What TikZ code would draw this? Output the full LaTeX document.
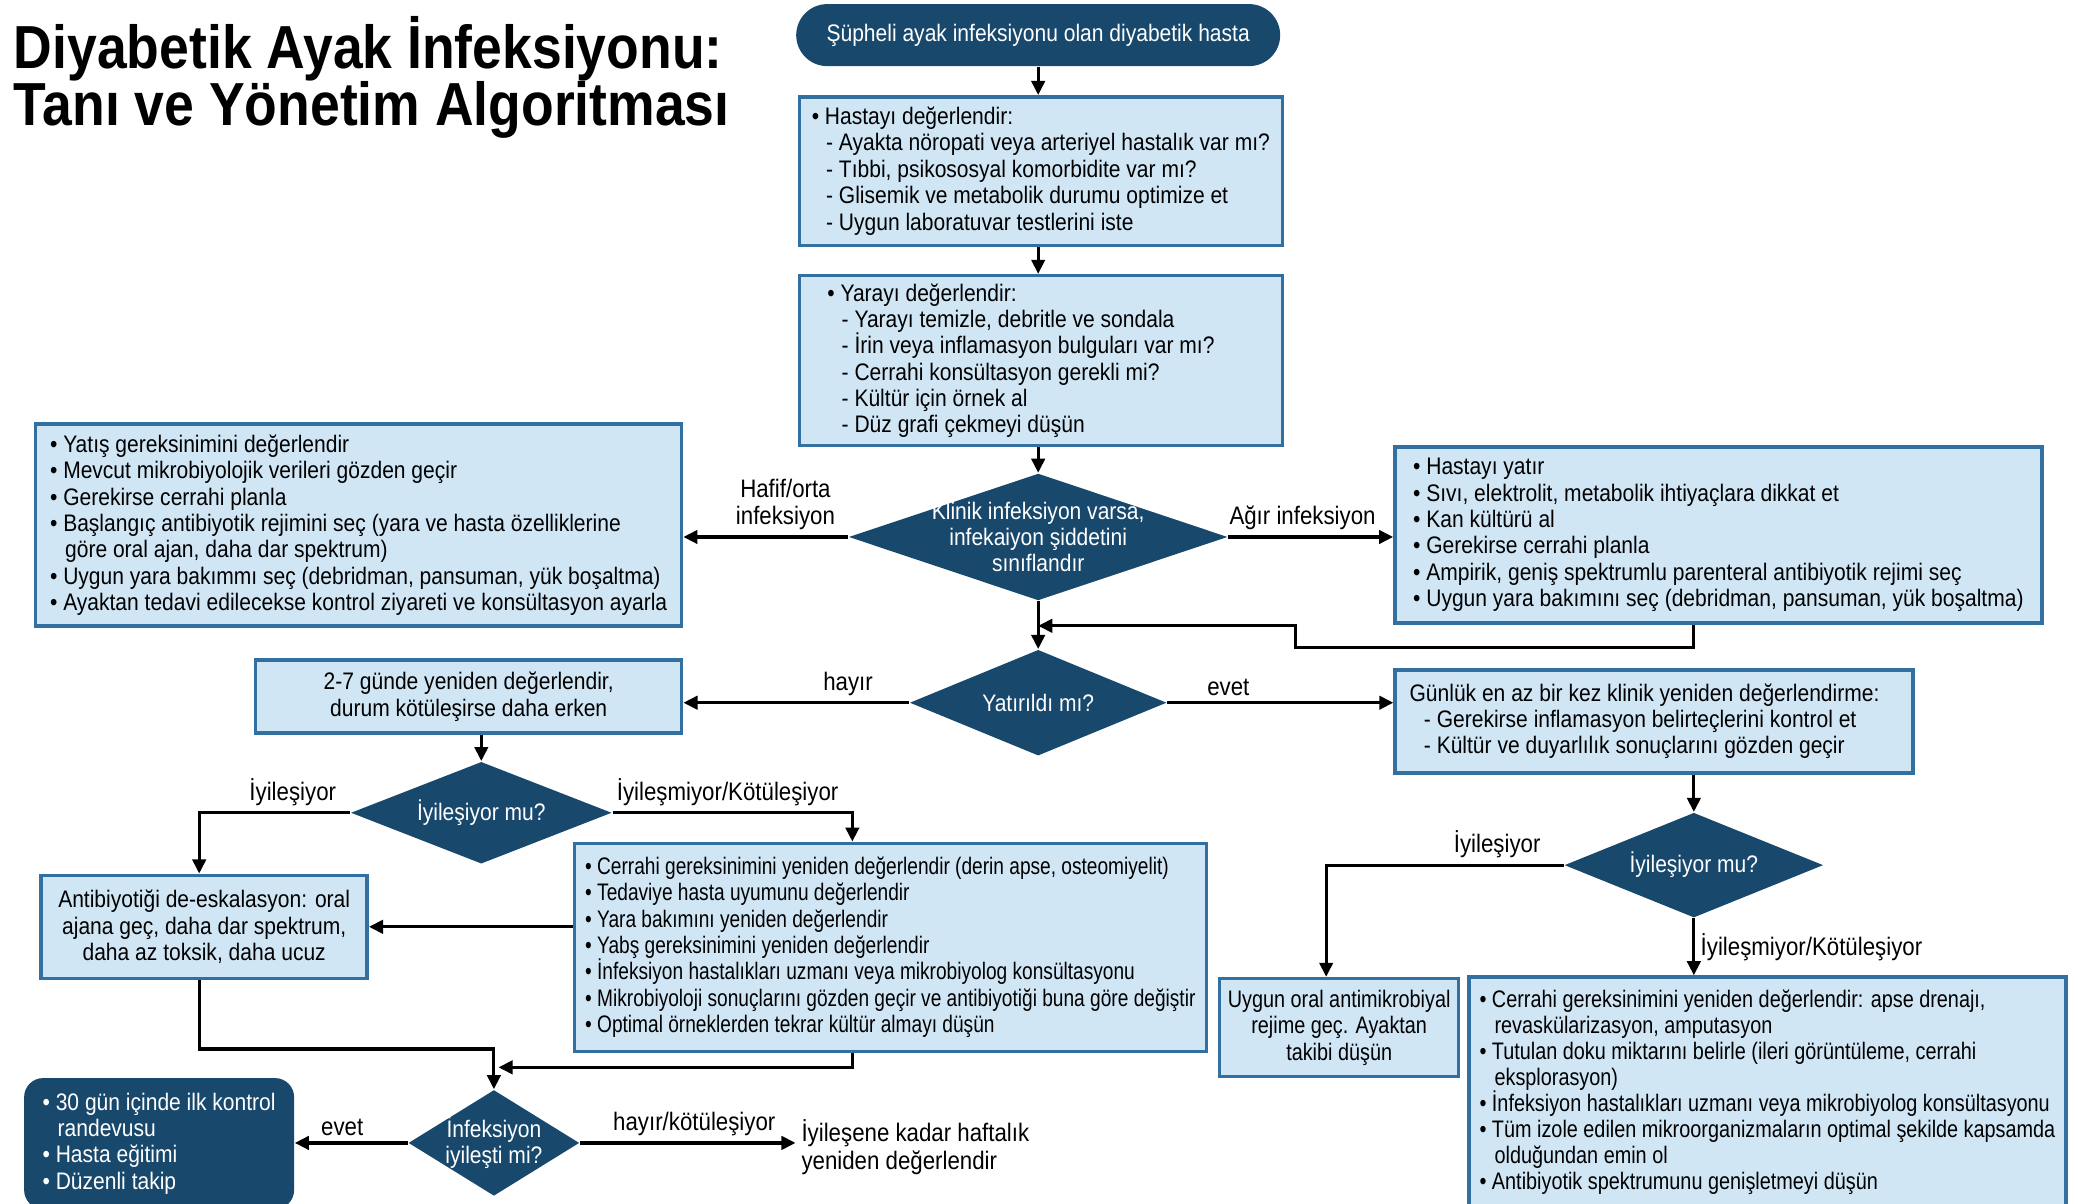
\documentclass[tikz,border=0pt]{standalone}
\usepackage{fontspec}
\setmainfont{Liberation Sans}[FakeStretch=0.88]
\newfontfamily\narrowsans{Liberation Sans}[FakeStretch=0.83]
\newfontfamily\tightsans{Liberation Sans}[FakeStretch=0.80]
\usepackage{tikz}
\usetikzlibrary{
  arrows.meta,
  shapes.geometric,
  positioning
}
\definecolor{footnavy}{RGB}{24,72,108}
\definecolor{paleblue}{RGB}{208,230,245}
\definecolor{edgeblue}{RGB}{50,112,162}

\tikzset{
  infobox/.style={draw=edgeblue, line width=1pt, fill=paleblue, align=left,
    inner sep=2pt, font=\fontsize{6.8}{7.5}\selectfont},
  centerbox/.style={infobox, align=center},
  termbox/.style={fill=footnavy, text=white, align=left, inner sep=2pt,
    font=\fontsize{6.8}{7.5}\selectfont},
  decision/.style={diamond, fill=footnavy, text=white, align=center,
    inner xsep=-3cm, inner ysep=-2cm, font=\fontsize{6.8}{7.5}\selectfont},
  flow/.style={line width=0.9pt, -{Triangle[length=4pt,width=3.8pt]}},
  lbl/.style={inner sep=1.5pt, font=\fontsize{7.2}{7.9}\selectfont}
}

\begin{document}
\begin{tikzpicture}[x=0.013259cm, y=-0.013259cm]
  \useasboundingbox (0,0) rectangle (1568,908);

  % Title
  \node[anchor=north west, inner sep=0pt, align=left,
    font=\bfseries\fontsize{17.3}{16.2}\selectfont] (title) at (10,12)
    {Diyabetik Ayak İnfeksiyonu:\\Tanı ve Yönetim Algoritması};

  % Main column
  \node[termbox, align=center, rounded corners=0.31cm, minimum width=4.84cm,
    minimum height=0.62cm] (start) at (783,26.5)
    {Şüpheli ayak infeksiyonu olan diyabetik hasta};
  \node[infobox, minimum width=4.83cm, minimum height=1.485cm] (hasta) at (785,129)
    {• Hastayı değerlendir:\\
     \hspace*{0.6em}- Ayakta nöropati veya arteriyel hastalık var mı?\\
     \hspace*{0.6em}- Tıbbi, psikososyal komorbidite var mı?\\
     \hspace*{0.6em}- Glisemik ve metabolik durumu optimize et\\
     \hspace*{0.6em}- Uygun laboratuvar testlerini iste};
  \node[infobox, align=flush left, text width=4.27cm, minimum width=4.83cm,
    minimum height=1.70cm] (yara) at (785,272)
    {• Yarayı değerlendir:\\
     \hspace*{0.6em}- Yarayı temizle, debritle ve sondala\\
     \hspace*{0.6em}- İrin veya inflamasyon bulguları var mı?\\
     \hspace*{0.6em}- Cerrahi konsültasyon gerekli mi?\\
     \hspace*{0.6em}- Kültür için örnek al\\
     \hspace*{0.6em}- Düz grafi çekmeyi düşün};
  \node[decision, minimum width=3.79cm, minimum height=1.27cm] (d1) at (783,405)
    {Klinik infeksiyon varsa,\\infekaiyon şiddetini\\sınıflandır};

  % Severity branches
  \node[infobox, minimum width=6.46cm, minimum height=2.02cm] (mild) at (270.5,396)
    {• Yatış gereksinimini değerlendir\\
     • Mevcut mikrobiyolojik verileri gözden geçir\\
     • Gerekirse cerrahi planla\\
     • Başlangıç antibiyotik rejimini seç (yara ve hasta özelliklerine\\
     \hspace*{0.63em}göre oral ajan, daha dar spektrum)\\
     • Uygun yara bakımmı seç (debridman, pansuman, yük boşaltma)\\
     • Ayaktan tedavi edilecekse kontrol ziyareti ve konsültasyon ayarla};
  \node[infobox, minimum width=6.47cm, minimum height=1.76cm] (sev) at (1296,403.5)
    {• Hastayı yatır\\
     • Sıvı, elektrolit, metabolik ihtiyaçlara dikkat et\\
     • Kan kültürü al\\
     • Gerekirse cerrahi planla\\
     • Ampirik, geniş spektrumlu parenteral antibiyotik rejimi seç\\
     • Uygun yara bakımını seç (debridman, pansuman, yük boşaltma)};
  \coordinate (merge) at (783,472);

  \node[decision, minimum width=2.57cm, minimum height=1.06cm] (d2) at (783,530)
    {Yatırıldı mı?};
  \node[centerbox, minimum width=4.26cm, minimum height=0.73cm] (recheck) at (353.5,525.5)
    {2-7 günde yeniden değerlendir,\\durum kötüleşirse daha erken};
  \node[infobox, align=flush left, text width=4.89cm, minimum width=5.18cm,
    minimum height=1.03cm] (daily) at (1247.5,544)
    {Günlük en az bir kez klinik yeniden değerlendirme:\\
     \hspace*{0.6em}- Gerekirse inflamasyon belirteçlerini kontrol et\\
     \hspace*{0.6em}- Kültür ve duyarlılık sonuçlarını gözden geçir};

  % Outpatient path
  \node[decision, minimum width=2.61cm, minimum height=1.02cm] (d3) at (363,613)
    {İyileşiyor mu?};
  \node[centerbox, minimum width=3.26cm, minimum height=1.03cm] (deesc) at (154,699)
    {Antibiyotiği de-eskalasyon: oral\\ajana geç, daha dar spektrum,\\daha az toksik, daha ucuz};
  \node[infobox, font=\tightsans\fontsize{6.8}{7.5}\selectfont,
    minimum width=6.32cm, minimum height=2.08cm] (worse) at (671.5,714.5)
    {• Cerrahi gereksinimini yeniden değerlendir (derin apse, osteomiyelit)\\
     • Tedaviye hasta uyumunu değerlendir\\
     • Yara bakımını yeniden değerlendir\\
     • Yabş gereksinimini yeniden değerlendir\\
     • İnfeksiyon hastalıkları uzmanı veya mikrobiyolog konsültasyonu\\
     • Mikrobiyoloji sonuçlarını gözden geçir ve antibiyotiği buna göre değiştir\\
     • Optimal örneklerden tekrar kültür almayı düşün};
  \coordinate (join) at (376,805);
  \node[decision, minimum width=1.71cm, minimum height=1.06cm] (d4) at (372.5,862)
    {İnfeksiyon\\iyileşti mi?};
  \node[termbox, rounded corners=0.19cm, minimum width=2.70cm, minimum height=1.31cm]
    (followup) at (120,862.5)
    {• 30 gün içinde ilk kontrol\\
     \hspace*{0.63em}randevusu\\
     • Hasta eğitimi\\
     • Düzenli takip};
  \node[lbl, anchor=west, align=left] (weekly) at (600,865)
    {İyileşene kadar haftalık\\yeniden değerlendir};

  % Inpatient path
  \node[decision, minimum width=2.59cm, minimum height=1.05cm] (d5) at (1277.5,652.5)
    {İyileşiyor mu?};
  \node[centerbox, font=\narrowsans\fontsize{6.8}{7.5}\selectfont,
    minimum width=2.39cm, minimum height=0.98cm] (oral) at (1010,775)
    {Uygun oral antimikrobiyal\\rejime geç. Ayaktan\\takibi düşün};
  \node[infobox, font=\narrowsans\fontsize{6.8}{7.4}\selectfont,
    minimum width=5.97cm, minimum height=2.31cm] (wider) at (1333,824)
    {• Cerrahi gereksinimini yeniden değerlendir: apse drenajı,\\
     \hspace*{0.63em}revaskülarizasyon, amputasyon\\
     • Tutulan doku miktarını belirle (ileri görüntüleme, cerrahi\\
     \hspace*{0.63em}eksplorasyon)\\
     • İnfeksiyon hastalıkları uzmanı veya mikrobiyolog konsültasyonu\\
     • Tüm izole edilen mikroorganizmaların optimal şekilde kapsamda\\
     \hspace*{0.63em}olduğundan emin ol\\
     • Antibiyotik spektrumunu genişletmeyi düşün};

  % Connectors
  \draw[flow] (start) -- (hasta.north -| start);
  \draw[flow] (hasta.south -| start) -- (yara.north -| start);
  \draw[flow] (yara.south -| start) -- (d1);
  \draw[flow] (d1) -- (d2);
  \draw[flow] (d1.west) -- (d1.west -| mild.east)
    node[lbl, above, pos=0.38, align=center] {Hafif/orta\\infeksiyon};
  \draw[flow] (d1.east) -- (d1.east -| sev.west)
    node[lbl, above, pos=0.45] {Ağır infeksiyon};
  \draw[flow] (sev.south -| d5) -- ++(0,17) -| (977,472) -- (merge);

  \draw[flow] (d2.west) -- (d2.west -| recheck.east)
    node[lbl, above, pos=0.27] {hayır};
  \draw[flow] (d2.east) -- (d2.east -| daily.west)
    node[lbl, above, pos=0.27] {evet};

  \draw[flow] (recheck.south -| d3.north) -- (d3.north);
  \draw[flow] (d3.west) -| ([xshift=-0.05cm]deesc.north)
    node[lbl, above, pos=0.19] {İyileşiyor};
  \draw[flow] (d3.east) -| ([xshift=-0.38cm]worse.north)
    node[lbl, above, pos=0.24] {İyileşmiyor/Kötüleşiyor};
  \draw[flow] (worse.west |- deesc.east) -- (deesc.east);
  \draw[flow] ([xshift=-0.05cm]deesc.south) -- ++(0,52) -| (d4.north);
  \draw[flow] ([xshift=-0.38cm]worse.south) |- (join);
  \draw[flow] (d4.west) -- (d4.west -| followup.east)
    node[lbl, above, pos=0.58] {evet};
  \draw[flow] (d4.east) -- (weekly.west |- d4.east)
    node[lbl, above, pos=0.53] {hayır/kötüleşiyor};

  \draw[flow] (daily.south -| d5.north) -- (d5.north);
  \draw[flow] (d5.west) -| ([xshift=-0.13cm]oral.north)
    node[lbl, above, pos=0.14] {İyileşiyor};
  \draw[flow] (d5.south) -- (d5.south |- wider.north)
    node[lbl, right, midway] {İyileşmiyor/Kötüleşiyor};
\end{tikzpicture}
\end{document}
